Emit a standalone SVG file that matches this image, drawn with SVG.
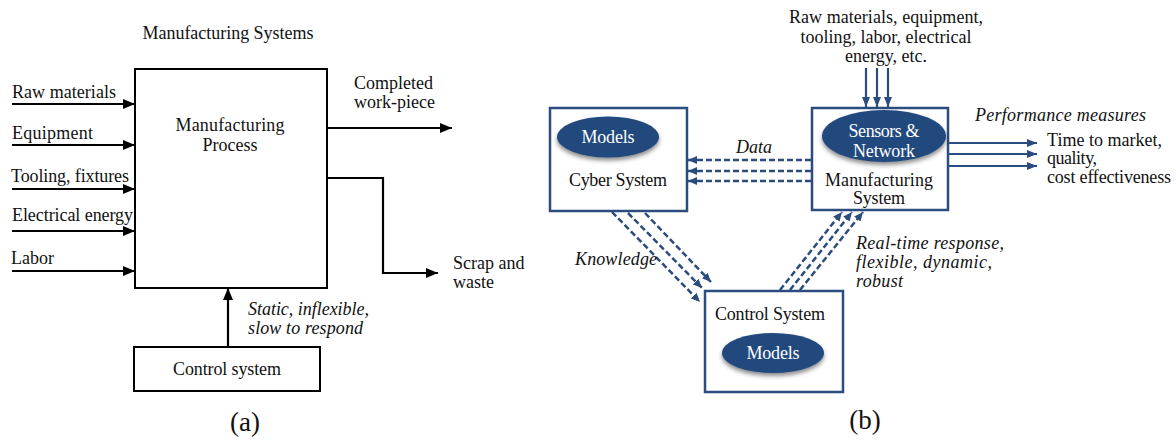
<svg xmlns="http://www.w3.org/2000/svg" width="1176" height="440" viewBox="0 0 1176 440">
<style>
text{font-family:"Liberation Serif","Times New Roman",serif;font-size:18px;fill:#111}
.it{font-style:italic}
.c{text-anchor:middle}
.w{fill:#fff}
.big{font-size:27px}
.bk{fill:none;stroke:#000;stroke-width:2}
.bl{fill:#fff;stroke:#2b4c7e;stroke-width:2.5}
.ln{fill:none;stroke:#000;stroke-width:2.2}
.bs{fill:none;stroke:#2b4c7e;stroke-width:2.2}
.bd{fill:none;stroke:#2b4c7e;stroke-width:2.5;stroke-dasharray:6 3}
.el{fill:#224a7e;filter:url(#sh)}
</style>
<defs>
<marker id="ak" markerUnits="userSpaceOnUse" markerWidth="12" markerHeight="10" refX="12" refY="5" orient="auto"><path d="M0,0 L12,5 L0,10 z" fill="#000"/></marker>
<marker id="ab" markerUnits="userSpaceOnUse" markerWidth="10" markerHeight="8" refX="10" refY="4" orient="auto"><path d="M0,0 L10,4 L0,8 z" fill="#2b4c7e"/></marker>
<marker id="ad" markerUnits="userSpaceOnUse" markerWidth="9" markerHeight="8" refX="9" refY="4" orient="auto"><path d="M0,0 L9,4 L0,8 z" fill="#2b4c7e"/></marker>
<filter id="sh" x="-20%" y="-20%" width="140%" height="150%"><feDropShadow dx="0" dy="3" stdDeviation="2" flood-color="#333" flood-opacity="0.55"/></filter>
</defs>

<!-- Panel (a) -->
<text id="title-a" x="228" y="39" class="c" textLength="171">Manufacturing Systems</text>
<g id="mfg-process">
<rect x="135" y="69" width="192" height="219" class="bk"/>
<text x="230" y="131" class="c" textLength="109">Manufacturing</text>
<text x="230" y="151" class="c" textLength="55">Process</text>
</g>
<g id="control-a">
<rect x="134" y="347" width="186" height="44" class="bk"/>
<text x="227" y="375" class="c" textLength="108">Control system</text>
</g>
<g id="inputs-a">
<text x="12" y="98" textLength="104">Raw materials</text>
<text x="12" y="139" textLength="81">Equipment</text>
<text x="11" y="182" textLength="118">Tooling, fixtures</text>
<text x="12" y="221" textLength="121">Electrical energy</text>
<text x="11" y="264" textLength="43">Labor</text>
</g>
<g id="outputs-a">
<text x="354" y="89" textLength="79">Completed</text>
<text x="354" y="108" textLength="81">work-piece</text>
<text x="453" y="269">Scrap and</text>
<text x="453" y="288">waste</text>
<text x="248" y="315" class="it" textLength="121">Static, inflexible,</text>
<text x="248" y="334" class="it" textLength="115">slow to respond</text>
</g>
<g id="connectors-a">
<line x1="12" y1="104" x2="135" y2="104" class="ln" marker-end="url(#ak)"/>
<line x1="12" y1="145" x2="135" y2="145" class="ln" marker-end="url(#ak)"/>
<line x1="12" y1="189" x2="135" y2="189" class="ln" marker-end="url(#ak)"/>
<line x1="12" y1="231" x2="135" y2="231" class="ln" marker-end="url(#ak)"/>
<line x1="12" y1="271" x2="135" y2="271" class="ln" marker-end="url(#ak)"/>
<line x1="328" y1="128" x2="452" y2="128" class="ln" marker-end="url(#ak)"/>
<polyline points="328,178 383,178 383,273 438,273" class="ln" marker-end="url(#ak)"/>
<line x1="228" y1="347" x2="228" y2="288" class="ln" marker-end="url(#ak)"/>
</g>
<text id="label-a" x="245" y="431" class="c big">(a)</text>

<!-- Panel (b) -->
<g id="inputs-b">
<text x="886" y="23" class="c" textLength="194">Raw materials, equipment,</text>
<text x="886" y="43" class="c" textLength="171">tooling, labor, electrical</text>
<text x="886" y="62" class="c" textLength="82">energy, etc.</text>
</g>
<g id="cyber-system">
<rect x="550" y="108" width="137" height="103" class="bl"/>
<ellipse cx="608" cy="137" rx="51" ry="20.5" class="el"/>
<text x="608" y="143" class="c w" textLength="53">Models</text>
<text x="618" y="186" class="c" textLength="98">Cyber System</text>
</g>
<g id="manufacturing-system">
<rect x="812" y="108" width="136" height="102" class="bl"/>
<ellipse cx="884" cy="136" rx="62" ry="26" class="el"/>
<text x="884" y="137" class="c w" textLength="71">Sensors &amp;</text>
<text x="884" y="157" class="c w" textLength="62">Network</text>
<text x="879" y="186" class="c" textLength="108">Manufacturing</text>
<text x="879" y="204" class="c" textLength="52">System</text>
</g>
<g id="control-system">
<rect x="705" y="291" width="138" height="101" class="bl"/>
<text x="770" y="320" class="c" textLength="110">Control System</text>
<ellipse cx="773" cy="353" rx="51" ry="20" class="el"/>
<text x="773" y="359" class="c w" textLength="53">Models</text>
</g>
<g id="outputs-b">
<text x="975" y="121" class="it" textLength="171">Performance measures</text>
<text x="1047" y="146" textLength="115">Time to market,</text>
<text x="1047" y="164" textLength="50">quality,</text>
<text x="1047" y="183" textLength="124">cost effectiveness</text>
</g>
<g id="connectors-b">
<line x1="866" y1="68" x2="866" y2="107" class="bs" marker-end="url(#ab)"/>
<line x1="877" y1="68" x2="877" y2="107" class="bs" marker-end="url(#ab)"/>
<line x1="888" y1="68" x2="888" y2="107" class="bs" marker-end="url(#ab)"/>
<line x1="949" y1="143" x2="1037" y2="143" class="bs" marker-end="url(#ab)"/>
<line x1="949" y1="154" x2="1037" y2="154" class="bs" marker-end="url(#ab)"/>
<line x1="949" y1="166" x2="1037" y2="166" class="bs" marker-end="url(#ab)"/>
<line x1="811" y1="160" x2="688" y2="160" class="bd" marker-end="url(#ad)"/>
<line x1="811" y1="171" x2="688" y2="171" class="bd" marker-end="url(#ad)"/>
<line x1="811" y1="181" x2="688" y2="181" class="bd" marker-end="url(#ad)"/>
<line x1="612" y1="212" x2="700" y2="302" class="bd" marker-end="url(#ad)"/>
<line x1="628" y1="213" x2="702" y2="288" class="bd" marker-end="url(#ad)"/>
<line x1="645" y1="213" x2="711" y2="282" class="bd" marker-end="url(#ad)"/>
<line x1="780" y1="290" x2="842" y2="212" class="bd" marker-end="url(#ad)"/>
<line x1="790" y1="290" x2="852" y2="212" class="bd" marker-end="url(#ad)"/>
<line x1="800" y1="290" x2="863" y2="212" class="bd" marker-end="url(#ad)"/>
</g>
<g id="labels-b">
<text x="754" y="153" class="c it" textLength="36">Data</text>
<text x="575" y="265" class="it" textLength="82">Knowledge</text>
<text x="856" y="249" class="it" textLength="148">Real-time response,</text>
<text x="856" y="268" class="it" textLength="136">flexible, dynamic,</text>
<text x="856" y="287" class="it" textLength="47">robust</text>
</g>
<text id="label-b" x="865" y="429" class="c big">(b)</text>
</svg>
